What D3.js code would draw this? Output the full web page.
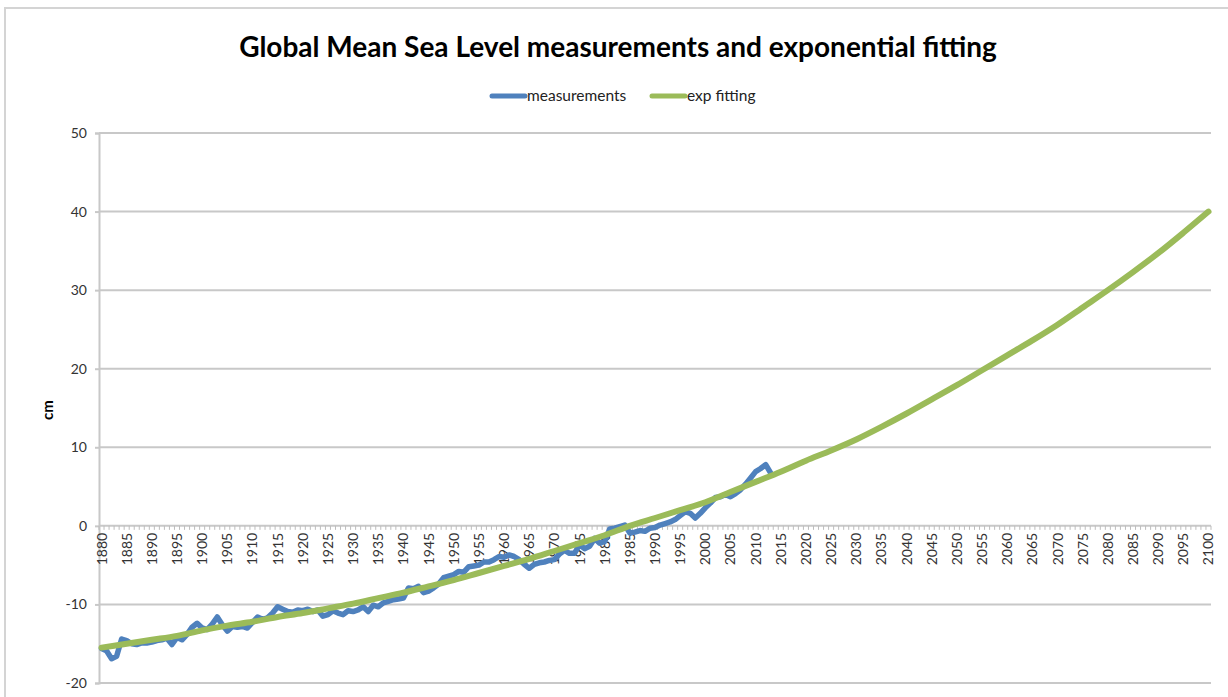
<!DOCTYPE html>
<html><head><meta charset="utf-8">
<script src="https://cdn.jsdelivr.net/npm/d3@7"></script>
<style>body{margin:0;background:#fff;} svg{display:block;font-family:Lato, "Open Sans", sans-serif;}</style>
</head><body>
<svg id="c" width="1228" height="697"></svg>
<script>
// ---- data ----
const title = "Global Mean Sea Level measurements and exponential fitting";
const yAxisTitle = "cm";
const seriesNames = ["measurements", "exp fitting"];
const firstYear = 1880, lastYear = 2100;
const yTicks = [-20, -10, 0, 10, 20, 30, 40, 50];
const measYears = d3.range(1880, 2014);
const measValues = [
 -15.6,-15.9,-16.9,-16.6,-14.4,-14.6,-15.0,-15.1,-14.9,-14.9,
 -14.8,-14.6,-14.5,-14.3,-15.1,-14.2,-14.5,-13.8,-12.9,-12.4,
 -13.0,-13.2,-12.5,-11.6,-12.6,-13.4,-12.8,-12.9,-12.8,-13.0,
 -12.3,-11.6,-11.9,-11.7,-11.1,-10.3,-10.6,-10.9,-11.0,-10.7,
 -10.8,-10.6,-10.9,-10.7,-11.5,-11.3,-10.8,-11.1,-11.3,-10.8,
 -10.9,-10.7,-10.3,-10.9,-10.1,-10.3,-9.8,-9.6,-9.4,-9.3,
 -9.2,-7.9,-8.0,-7.7,-8.5,-8.3,-7.9,-7.4,-6.6,-6.4,
 -6.2,-5.8,-5.9,-5.2,-5.1,-5.0,-4.6,-4.6,-4.3,-3.9,
 -4.0,-3.7,-3.9,-4.3,-4.9,-5.4,-4.9,-4.7,-4.6,-4.4,
 -4.3,-3.6,-3.1,-3.5,-3.5,-2.4,-2.9,-2.6,-1.6,-2.2,
 -2.0,-0.4,-0.3,-0.1,0.1,-0.9,-0.8,-0.6,-0.7,-0.3,
 -0.2,0.1,0.3,0.5,0.8,1.3,1.8,1.6,1.0,1.6,
 2.3,2.9,3.6,3.7,4.0,3.7,4.1,4.6,5.3,6.1,
 6.9,7.3,7.8,6.7
];
const fitYears = d3.range(1880, 2101, 5);
const fitValues = [
 -15.5,-15.0,-14.5,-14.0,-13.3,-12.7,-12.2,-11.6,-11.1,-10.5,
 -9.9,-9.2,-8.5,-7.7,-6.9,-6.0,-5.1,-4.2,-3.2,-2.2,
 -1.2,0.0,1.0,2.0,3.0,4.3,5.6,6.9,8.3,9.6,
 11.0,12.6,14.3,16.1,17.9,19.8,21.7,23.6,25.6,27.8,
 30.0,32.3,34.7,37.3,40.0
];
const colors = ["#4f81bd", "#9bbb59"];

// ---- drawing ----
const svg = d3.select("#c");
const years = d3.range(firstYear, lastYear + 1);
const x = d3.scalePoint().domain(years).range([99, 1211]).padding(0.5);
const y = d3.scaleLinear().domain([-20, 50]).range([683, 133]);
const step = x.step();

// outer frame
svg.append("path").attr("d", "M5,697 L5,8 L1228,8").attr("fill","none")
  .attr("stroke", "#d4d4d4").attr("stroke-width", 2);

// title
svg.append("text").attr("x", 618).attr("y", 57).attr("text-anchor","middle")
  .attr("font-size", 28).attr("font-weight", "bold").attr("fill", "#000").text(title);

// gridlines
svg.append("g").selectAll("line").data(yTicks.filter(d => d !== 0)).join("line")
  .attr("x1", 99).attr("x2", 1211).attr("y1", d => y(d)).attr("y2", d => y(d))
  .attr("stroke", "#c8c8c8").attr("stroke-width", 2);

// y axis
const yAxis = d3.axisLeft(y).tickValues(yTicks).tickSize(4).tickPadding(8).tickFormat(d => String(d));
const gy = svg.append("g").attr("transform", "translate(99,0)").call(yAxis);
gy.select(".domain").attr("stroke", "#c8c8c8").attr("stroke-width", 2);
gy.selectAll(".tick line").attr("stroke", "#c8c8c8").attr("stroke-width", 2);
gy.selectAll("text").attr("font-size", 14).attr("fill", "#333").attr("font-family", "Lato");

// y axis title
svg.append("text").attr("transform", "translate(53,410) rotate(-90)")
  .attr("text-anchor", "middle").attr("font-size", 15).attr("font-weight", "bold").text(yAxisTitle);

// x axis at y=0
const y0 = y(0);
svg.append("line").attr("x1", 99).attr("x2", 1211).attr("y1", y0).attr("y2", y0)
  .attr("stroke", "#c8c8c8").attr("stroke-width", 2);
svg.append("g").selectAll("line").data(d3.range(years.length + 1)).join("line")
  .attr("x1", i => 99 + i * step).attr("x2", i => 99 + i * step)
  .attr("y1", y0).attr("y2", y0 + 4).attr("stroke", "#bdbdbd").attr("stroke-width", 1);
svg.append("g").selectAll("text").data(years.filter(d => (d - firstYear) % 5 === 0)).join("text")
  .attr("transform", d => `translate(${x(d) + 5},${y0 + 7}) rotate(-90)`)
  .attr("text-anchor", "end").attr("font-size", 14).attr("fill", "#333").text(d => d);

// lines
const meas = measYears.map((d, i) => [d, measValues[i]]);
const fit = fitYears.map((d, i) => [d, fitValues[i]]);
const line = d3.line().x(d => x(d[0])).y(d => y(d[1]));
svg.append("path").datum(meas).attr("d", line).attr("fill", "none")
  .attr("stroke", colors[0]).attr("stroke-width", 5.5).attr("stroke-linejoin", "round").attr("stroke-linecap", "round");
svg.append("path").datum(fit).attr("d", line.curve(d3.curveMonotoneX)).attr("fill", "none")
  .attr("stroke", colors[1]).attr("stroke-width", 6).attr("stroke-linejoin", "round").attr("stroke-linecap", "round");

// legend
const leg = [{x: 490, name: seriesNames[0], c: colors[0]}, {x: 650, name: seriesNames[1], c: colors[1]}];
const lg = svg.append("g").selectAll("g").data(leg).join("g");
lg.append("line").attr("x1", d => d.x + 2).attr("x2", d => d.x + 35).attr("y1", 96).attr("y2", 96)
  .attr("stroke", d => d.c).attr("stroke-width", 5).attr("stroke-linecap", "round");
lg.append("text").attr("x", d => d.x + 37).attr("y", 101).attr("font-size", 15.5).attr("fill", "#222").text(d => d.name);
</script>
</body></html>
